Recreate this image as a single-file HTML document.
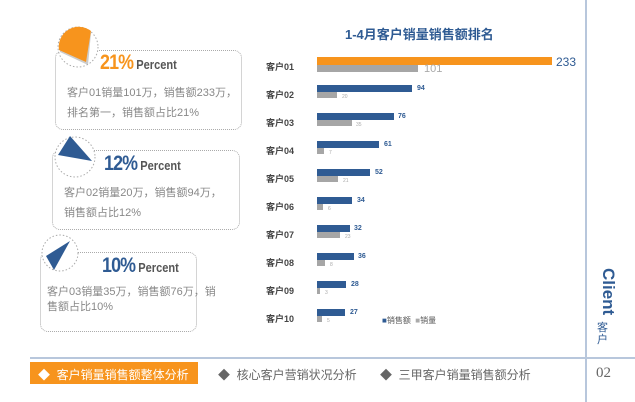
<!DOCTYPE html>
<html><head><meta charset="utf-8"><style>
body{margin:0;width:635px;height:402px;background:#fff;position:relative;overflow:hidden;font-family:"Liberation Sans","Noto Sans CJK SC",sans-serif}
.a{position:absolute}
.box{position:absolute;border:1.5px dotted #aaa;border-radius:8px}
.t{position:absolute;color:#888;font-size:11px;line-height:20px}
.pct{position:absolute;font-weight:bold;font-size:21px;letter-spacing:-1px;transform:scaleX(.85);transform-origin:left}
.pct span{font-size:13px;color:#555;letter-spacing:0}
.lab{position:absolute;left:266px;font-size:9px;color:#444;font-weight:bold}
.b{position:absolute;left:317px;background:#2f5b93}
.g{position:absolute;left:317px;background:#a6a6a6}
.v{position:absolute;font-size:7px;font-weight:bold;color:#2f5b93}
.w{position:absolute;font-size:5px;color:#aaa}
</style></head><body>
<div class="a" style="left:585px;top:0;width:1.5px;height:402px;background:#b8c7dc"></div>
<div class="a" style="left:30px;top:357px;width:605px;height:1.5px;background:#b8c7dc"></div>

<div class="box" style="left:55px;top:50px;width:185px;height:78px"></div>
<div class="box" style="left:52px;top:150px;width:186px;height:78px"></div>
<div class="box" style="left:40px;top:252px;width:155px;height:78px"></div>
<svg class="a" style="left:0;top:0" width="260" height="300">
<circle cx="78" cy="47" r="20" fill="#fff" stroke="#aaa" stroke-dasharray="1.5 2"/>
<path d="M88 65 L91 33 A20 20 0 0 0 60 52 Z" fill="#999" opacity=".5"/>
<path d="M86 62 L91 31 A20 20 0 0 0 59 50 Z" fill="#f7941d"/>
<circle cx="75" cy="157" r="20" fill="#fff" stroke="#aaa" stroke-dasharray="1.5 2"/>
<path d="M70 136 L92 161 L58 155 Z" fill="#2f5b93"/>
<circle cx="60" cy="253" r="18" fill="#fff" stroke="#aaa" stroke-dasharray="1.5 2"/>
<path d="M70 241 L46 256 L54 270 Z" fill="#2f5b93"/>
</svg>
<div class="pct" style="left:100px;top:51px;color:#f7941d">21%<span> Percent</span></div>
<div class="t" style="left:67px;top:83px">客户01销量101万，销售额233万，<br>排名第一，销售额占比21%</div>
<div class="pct" style="left:104px;top:152px;color:#2f5b93">12%<span> Percent</span></div>
<div class="t" style="left:64px;top:183px">客户02销量20万，销售额94万，<br>销售额占比12%</div>
<div class="pct" style="left:102px;top:254px;color:#2f5b93">10%<span> Percent</span></div>
<div class="t" style="left:47px;top:285px;line-height:15px">客户03销量35万，销售额76万，销<br>售额占比10%</div>

<div class="a" style="left:345px;top:24px;font-size:13px;font-weight:bold;color:#2f5b93">1-4月客户销量销售额排名</div>

<div class="lab" style="top:60px">客户01</div>
<div class="a" style="left:317px;top:57px;width:235px;height:8px;background:#f7941d"></div>
<div class="g" style="top:65px;width:101px;height:7px"></div>
<div class="a" style="left:556px;top:55px;font-size:12px;color:#2f5b93">233</div>
<div class="a" style="left:424px;top:63px;font-size:11px;color:#aaa">101</div>

<div class="lab" style="top:88px">客户02</div><div class="b" style="top:85px;width:95px;height:7px"></div><div class="g" style="top:92px;width:20px;height:6px"></div><div class="v" style="left:417px;top:85px">94</div><div class="w" style="left:342px;top:94px">20</div>
<div class="lab" style="top:116px">客户03</div><div class="b" style="top:113px;width:77px;height:7px"></div><div class="g" style="top:120px;width:35px;height:6px"></div><div class="v" style="left:398px;top:113px">76</div><div class="w" style="left:356px;top:122px">35</div>
<div class="lab" style="top:144px">客户04</div><div class="b" style="top:141px;width:62px;height:7px"></div><div class="g" style="top:148px;width:7px;height:6px"></div><div class="v" style="left:384px;top:141px">61</div><div class="w" style="left:329px;top:150px">7</div>
<div class="lab" style="top:172px">客户05</div><div class="b" style="top:169px;width:53px;height:7px"></div><div class="g" style="top:176px;width:21px;height:6px"></div><div class="v" style="left:375px;top:169px">52</div><div class="w" style="left:343px;top:178px">21</div>
<div class="lab" style="top:200px">客户06</div><div class="b" style="top:197px;width:35px;height:7px"></div><div class="g" style="top:204px;width:6px;height:6px"></div><div class="v" style="left:357px;top:197px">34</div><div class="w" style="left:328px;top:206px">6</div>
<div class="lab" style="top:228px">客户07</div><div class="b" style="top:225px;width:33px;height:7px"></div><div class="g" style="top:232px;width:23px;height:6px"></div><div class="v" style="left:354px;top:225px">32</div><div class="w" style="left:345px;top:234px">23</div>
<div class="lab" style="top:256px">客户08</div><div class="b" style="top:253px;width:37px;height:7px"></div><div class="g" style="top:260px;width:8px;height:6px"></div><div class="v" style="left:358px;top:253px">36</div><div class="w" style="left:330px;top:262px">8</div>
<div class="lab" style="top:284px">客户09</div><div class="b" style="top:281px;width:29px;height:7px"></div><div class="g" style="top:288px;width:3px;height:6px"></div><div class="v" style="left:351px;top:281px">28</div><div class="w" style="left:325px;top:290px">3</div>
<div class="lab" style="top:312px">客户10</div><div class="b" style="top:309px;width:28px;height:7px"></div><div class="g" style="top:316px;width:5px;height:6px"></div><div class="v" style="left:350px;top:309px">27</div><div class="w" style="left:327px;top:318px">5</div>
<div class="a" style="left:382px;top:315px;font-size:8px;color:#555"><span style="color:#2f5b93">■</span>销售额 &nbsp;<span style="color:#aaa">■</span>销量</div>

<div class="a" style="top:268px;transform:rotate(90deg);transform-origin:left top;left:618px;font-size:17px;font-weight:bold;color:#2f5b93">Client</div>
<div class="a" style="left:597px;top:322px;width:12px;font-size:11px;color:#2f5b93;line-height:12px">客户</div>

<div class="a" style="left:30px;top:362px;width:168px;height:22px;background:#f7941d"></div>
<div class="a" style="left:38px;top:366px;font-size:12px;color:#fff">◆ &nbsp;客户销量销售额整体分析</div>
<div class="a" style="left:218px;top:366px;font-size:12px;color:#666">◆ &nbsp;核心客户营销状况分析</div>
<div class="a" style="left:380px;top:366px;font-size:12px;color:#666">◆ &nbsp;三甲客户销量销售额分析</div>
<div class="a" style="left:596px;top:365px;font-size:15px;color:#666;font-family:'Liberation Serif',serif">02</div>
</body></html>
